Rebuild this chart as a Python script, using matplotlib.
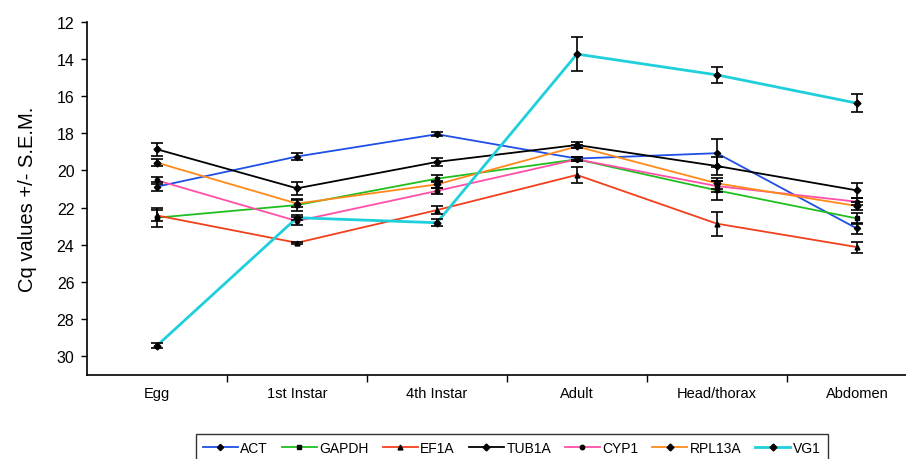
import matplotlib
matplotlib.use('Agg')
import matplotlib.pyplot as plt
import numpy as np

plt.rcParams['font.family'] = ['Liberation Sans', 'DejaVu Sans']

# stages and Cq values (mean, S.E.M.)
stages = ['Egg', '1st Instar', '4th Instar', 'Adult', 'Head/thorax', 'Abdomen']

act = [20.87, 19.25, 18.05, 19.36, 19.07, 23.12]
act_err = [0.25, 0.2, 0.1, 0.1, 0.75, 0.3]

gapdh = [22.54, 21.86, 20.44, 19.40, 21.07, 22.58]
gapdh_err = [0.5, 0.3, 0.2, 0.1, 0.5, 0.3]

ef1a = [22.42, 23.89, 22.13, 20.24, 22.86, 24.12]
ef1a_err = [0.3, 0.07, 0.2, 0.45, 0.65, 0.3]

tub1a = [18.86, 20.96, 19.54, 18.63, 19.76, 21.07]
tub1a_err = [0.35, 0.35, 0.2, 0.15, 0.5, 0.4]

cyp1 = [20.53, 22.72, 21.10, 19.40, 20.84, 21.68]
cyp1_err = [0.2, 0.2, 0.15, 0.1, 0.3, 0.2]

rpl13a = [19.58, 21.78, 20.75, 18.71, 20.69, 21.91]
rpl13a_err = [0.2, 0.2, 0.2, 0.1, 0.3, 0.2]

vg1 = [29.42, 22.54, 22.81, 13.74, 14.86, 16.38]
vg1_err = [0.15, 0.15, 0.2, 0.9, 0.45, 0.5]

series = [
    ('ACT', act, act_err, '#1f4fe6', 'D', 3.2, 1.3),
    ('GAPDH', gapdh, gapdh_err, '#1fbf1f', 's', 3.5, 1.3),
    ('EF1A', ef1a, ef1a_err, '#f2401c', '^', 3.5, 1.3),
    ('TUB1A', tub1a, tub1a_err, '#000000', 'D', 3.5, 1.3),
    ('CYP1', cyp1, cyp1_err, '#ff4fa8', 'o', 3.2, 1.3),
    ('RPL13A', rpl13a, rpl13a_err, '#ff8a1a', 'D', 3.5, 1.3),
    ('VG1', vg1, vg1_err, '#1fcfdc', 'D', 3.5, 2.0),
]

fig = plt.figure(figsize=(9.06, 4.6), dpi=100)
ax = fig.add_axes([0.096, 0.1826, 0.927, 0.768])

x = np.arange(len(stages))
handles = []
for name, vals, errs, col, mk, ms, lw in series:
    ax.errorbar(x, vals, yerr=errs, fmt='none', ecolor='black',
                elinewidth=1.2, capsize=4.2, capthick=1.2, zorder=3)
    h, = ax.plot(x, vals, color=col, lw=lw, marker=mk, ms=ms,
                 mfc='black', mec='black', label=name, zorder=2)
    handles.append(h)

ax.set_xlim(-0.5, 5.5)
ax.set_ylim(31, 12)
ax.set_yticks(np.arange(12, 31, 2))
ax.tick_params(axis='y', direction='out', length=4, width=1, labelsize=11.5, pad=5)

ax.set_xticks(x)
ax.set_xticklabels(stages, fontsize=10.5)
ax.set_xticks(np.arange(0.5, 5, 1), minor=True)
ax.tick_params(axis='x', which='major', length=0, pad=8)
ax.tick_params(axis='x', which='minor', direction='out', length=5, width=1)

for s in ['top', 'right']:
    ax.spines[s].set_visible(False)
for s in ['left', 'bottom']:
    ax.spines[s].set_linewidth(1.2)

ax.set_ylabel('Cq values +/- S.E.M.', fontsize=14.5, labelpad=14)

leg = fig.legend(handles=handles, loc='upper left', bbox_to_anchor=(0.2163, 0.0543),
                 ncol=7, fontsize=10, frameon=True, fancybox=False,
                 edgecolor='black', handlelength=2.5, handletextpad=0.2,
                 columnspacing=1.0, borderpad=0.5, borderaxespad=0)
leg.get_frame().set_linewidth(1.0)

plt.savefig('out.png', dpi=100, facecolor='white')
plt.close()
